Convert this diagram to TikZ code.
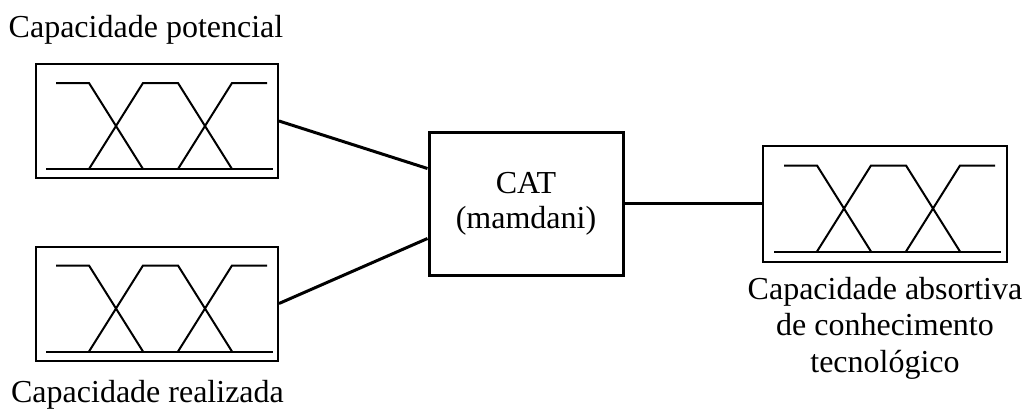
\documentclass[tikz,border=0pt]{standalone}
\usepackage{fontspec}
\setmainfont{Liberation Serif}
\usepackage{tikz}
\usetikzlibrary{positioning}

\begin{document}
\begin{tikzpicture}[x=1pt, y=1pt,
    mfbox/.style={rectangle, draw=black, line width=2pt, minimum width=242pt, minimum height=114pt, inner sep=0pt},
    catbox/.style={rectangle, draw=black, line width=3pt, minimum width=194pt, minimum height=143pt, inner sep=0pt, align=center, font=\fontsize{32}{35}\selectfont},
    lbl/.style={inner sep=0pt, align=center, font=\fontsize{32}{36.5}\selectfont},
    link/.style={draw=black, line width=3pt},
    mfsets/.pic={
        \draw[line width=2pt] (-111,-48) -- (116,-48);
        \draw[line width=2pt] (-101,38) -- (-68,38) -- (-14,-48);
        \draw[line width=2pt] (-68,-48) -- (-14,38) -- (21,38) -- (75,-48);
        \draw[line width=2pt] (21,-48) -- (75,38) -- (110,38);
    }]

    \useasboundingbox (0,0) rectangle (1026,-410);

    \node [mfbox] (pot) at (157,-121) {};
    \node [mfbox] (real) at (157,-303.5) {};
    \node [catbox] (cat) at (526,-203.5) {CAT\\(mamdani)};
    \node [mfbox, minimum width=244pt, minimum height=116pt] (abs) at (885,-203.5) {};

    \pic at (pot) {mfsets};
    \pic at (real) {mfsets};
    \pic at (abs) {mfsets};

    \node [lbl, anchor=base] (potlbl) at (146,-37) {Capacidade potencial};
    \node [lbl, anchor=base] (reallbl) at (147.5,-402) {Capacidade realizada};
    \node [lbl] (abslbl) at (885,-328) {Capacidade absortiva\\de conhecimento\\tecnológico};

    \draw [link] (pot.east) -- ([yshift=35pt]cat.west);
    \draw [link] (real.east) -- ([yshift=-35pt]cat.west);
    \draw [link] (cat.east) -- (abs.west);

\end{tikzpicture}
\end{document}
